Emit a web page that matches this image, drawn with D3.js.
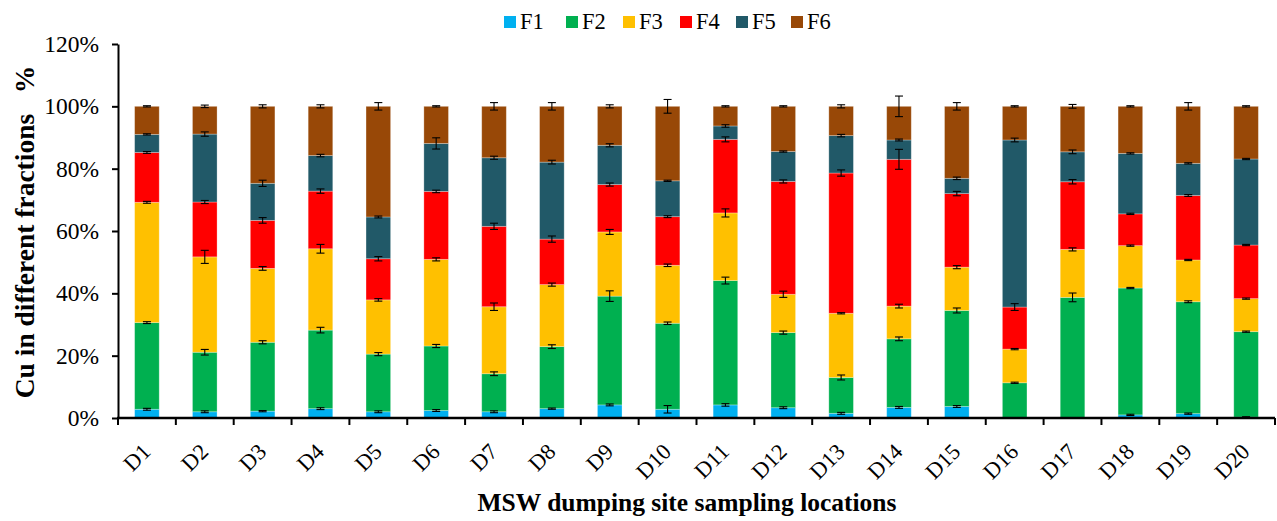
<!DOCTYPE html>
<html>
<head>
<meta charset="utf-8">
<script src="https://cdn.jsdelivr.net/npm/d3@7"></script>
<style>
  html, body { margin: 0; padding: 0; background: #fff; }
  svg { display: block; }
</style>
</head>
<body>
<svg id="chart" width="1277" height="521"></svg>
<script>
// Sampling locations
const sites = ["D1","D2","D3","D4","D5","D6","D7","D8","D9","D10",
               "D11","D12","D13","D14","D15","D16","D17","D18","D19","D20"];
const fractionNames = ["F1","F2","F3","F4","F5","F6"];
const fractionColors = ["#00B0F0","#00B050","#FFC000","#FF0000","#215968","#984807"];

// Share of Cu in each fraction (%), per site
const F1 = [2.8,2.0,2.2,3.0,2.0,2.4,2.0,3.0,4.2,2.8,4.2,3.3,1.5,3.4,3.7,0.0,0.0,1.0,1.4,0.3];
const F2 = [27.8,19.1,22.1,25.2,18.5,20.7,12.2,19.9,34.9,27.6,39.9,24.1,11.5,22.0,30.8,11.3,38.7,40.7,35.9,27.4];
const F3 = [38.6,30.6,23.7,26.1,17.4,27.8,21.5,19.9,20.6,18.6,21.7,12.3,20.6,10.5,13.9,10.8,15.4,13.6,13.4,10.6];
const F4 = [16.0,17.6,15.4,18.5,13.2,21.8,25.8,14.6,15.2,15.6,23.6,36.2,45.0,47.1,23.6,13.5,21.7,10.2,20.7,17.2];
const F5 = [5.8,21.8,11.9,11.4,13.4,15.4,22.0,24.7,12.6,11.5,4.3,9.6,12.0,6.2,4.9,53.6,9.6,19.4,10.3,27.6];
const F6 = [9.0,8.9,24.7,15.8,35.5,11.9,16.5,17.9,12.5,23.9,6.3,14.5,9.4,10.8,23.1,10.8,14.6,15.1,18.3,16.9];

// Standard deviations (%), shown at the top of each segment
const F1err = [0.3,0.3,0.2,0.3,0.3,0.3,0.3,0.2,0.3,1.2,0.4,0.3,0.3,0.3,0.3,0.0,0.0,0.2,0.2,0.1];
const F2err = [0.3,0.9,0.5,0.9,0.5,0.5,0.6,0.6,1.7,0.4,1.1,0.5,0.8,0.6,0.8,0.2,1.4,0.2,0.3,0.2];
const F3err = [0.3,2.1,0.6,1.4,0.4,0.5,1.2,0.5,0.8,0.4,1.3,1.0,0.2,0.6,0.5,0.2,0.5,0.2,0.2,0.2];
const F4err = [0.3,0.5,0.9,0.7,0.7,0.4,1.0,1.0,0.5,0.3,0.8,0.5,1.0,3.2,0.7,1.1,0.7,0.2,0.3,0.2];
const F5err = [0.2,0.7,1.0,0.4,0.3,1.8,0.5,0.6,0.5,0.2,0.4,0.2,0.4,0.3,0.4,0.6,0.6,0.2,0.2,0.2];
const F6err = [0.2,0.4,0.5,0.5,1.2,0.2,1.2,1.2,0.5,2.2,0.2,0.2,0.5,3.3,1.2,0.2,0.6,0.2,1.2,0.2];

const yTicks = [0,20,40,60,80,100,120];

const series = [F1,F2,F3,F4,F5,F6];
const errors = [F1err,F2err,F3err,F4err,F5err,F6err];

const rows = sites.map((s, i) => {
  const r = { site: s };
  fractionNames.forEach((f, k) => { r[f] = series[k][i]; });
  return r;
});

const serif = "'Liberation Serif', 'Times New Roman', serif";
const svg = d3.select("#chart");
const m = { left: 118, right: 1275, top: 44, bottom: 418 };

const x = d3.scaleBand().domain(sites).range([m.left, m.right]).paddingInner(0.575).paddingOuter(0.2875);
const y = d3.scaleLinear().domain([0, 120]).range([m.bottom, m.top]);

const stacked = d3.stack().keys(fractionNames)(rows);

// Bars
const layers = svg.append("g").selectAll("g")
  .data(stacked).join("g")
  .attr("fill", (d, k) => fractionColors[k]);

layers.selectAll("rect")
  .data(d => d).join("rect")
  .attr("x", d => x(d.data.site))
  .attr("width", x.bandwidth())
  .attr("y", d => y(d[1]))
  .attr("height", d => Math.max(0, y(d[0]) - y(d[1])))
  .attr("stroke", "rgba(255,255,255,0.35)")
  .attr("stroke-width", 0.8);

// Error bars
const eb = svg.append("g").attr("stroke", "#000").attr("stroke-width", 1.1);
stacked.forEach((layer, k) => {
  layer.forEach((d, i) => {
    const e = errors[k][i];
    if (series[k][i] <= 0) return;
    const cx = x(d.data.site) + x.bandwidth() / 2;
    const top = d[1];
    const cap = 4;
    eb.append("line").attr("x1", cx).attr("x2", cx).attr("y1", y(top + e)).attr("y2", y(top - e));
    eb.append("line").attr("x1", cx - cap).attr("x2", cx + cap).attr("y1", y(top + e)).attr("y2", y(top + e));
    eb.append("line").attr("x1", cx - cap).attr("x2", cx + cap).attr("y1", y(top - e)).attr("y2", y(top - e));
  });
});

// Y axis
const yAxis = svg.append("g")
  .attr("transform", `translate(${m.left},0)`)
  .call(d3.axisLeft(y).tickValues(yTicks).tickFormat(d => d + "%").tickSize(6).tickSizeOuter(0));
yAxis.select(".domain").attr("stroke", "#000").attr("stroke-width", 2);
yAxis.selectAll(".tick line").attr("stroke", "#000").attr("stroke-width", 2);
yAxis.selectAll(".tick text")
  .attr("font-family", serif)
  .attr("font-size", 23.5).attr("fill", "#000").attr("x", -19);

// X axis with ticks on category boundaries
const xAxis = svg.append("g").attr("transform", `translate(0,${m.bottom})`);
xAxis.append("line").attr("x1", m.left - 1).attr("x2", m.right).attr("stroke", "#000").attr("stroke-width", 2.5);
const boundary = i => x(sites[0]) - x.paddingOuter() * x.step() + i * x.step();
xAxis.selectAll("line.tk").data(d3.range(sites.length + 1)).join("line")
  .attr("class", "tk")
  .attr("x1", i => boundary(i))
  .attr("x2", i => boundary(i))
  .attr("y1", 0).attr("y2", 7)
  .attr("stroke", "#000").attr("stroke-width", 2);

xAxis.selectAll("text").data(sites).join("text")
  .attr("transform", d => `translate(${x(d) + x.bandwidth() / 2 + 5},${35}) rotate(-45)`)
  .attr("text-anchor", "end")
  .attr("font-family", serif)
  .attr("font-size", 22.5).attr("fill", "#000")
  .text(d => d);

// Axis titles
svg.append("text")
  .attr("transform", `translate(34,232) rotate(-90)`)
  .attr("text-anchor", "middle")
  .attr("font-family", serif)
  .attr("font-weight", "bold").attr("font-size", 27.5)
  .attr("xml:space", "preserve")
  .text("Cu in different fractions   %");

svg.append("text")
  .attr("x", 687).attr("y", 511)
  .attr("text-anchor", "middle")
  .attr("font-family", serif)
  .attr("font-weight", "bold").attr("font-size", 25.5)
  .text("MSW dumping site sampling locations");

// Legend
const legendX = [504, 566, 623, 680, 736, 791];
const lg = svg.append("g").selectAll("g").data(fractionNames).join("g")
  .attr("transform", (d, k) => `translate(${legendX[k]},16)`);
lg.append("rect").attr("width", 12).attr("height", 12).attr("fill", (d, k) => fractionColors[k]);
lg.append("text").attr("x", 16).attr("y", 12.5)
  .attr("font-family", serif)
  .attr("font-size", 22.5).attr("fill", "#000")
  .text(d => d);
</script>
</body>
</html>
